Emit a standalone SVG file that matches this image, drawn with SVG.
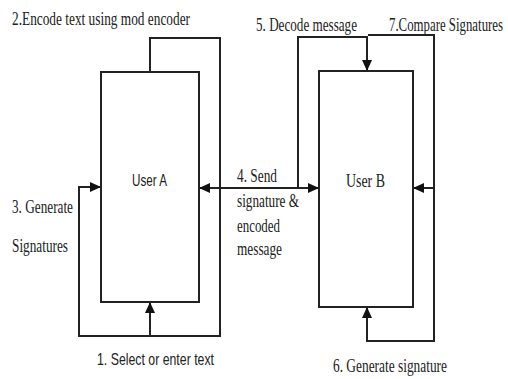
<svg xmlns="http://www.w3.org/2000/svg" width="508" height="379" viewBox="0 0 508 379">
<style>
.box{fill:#fff;stroke:#222;stroke-width:2}
.ln{fill:none;stroke:#222;stroke-width:2}
.ser{font-family:"Liberation Serif","Times New Roman",serif;font-size:19px;fill:#222}
.san{font-family:"Liberation Sans",Arial,sans-serif;font-size:17px;fill:#222}
</style>
<defs>
<marker id="ah" markerUnits="userSpaceOnUse" markerWidth="11" markerHeight="10" refX="10" refY="5" orient="auto-start-reverse">
<path d="M0,0 L11,5 L0,10 z" fill="#111"/>
</marker>
</defs>
<rect width="508" height="379" fill="#fff"/>
<g id="connectors">
<path class="ln" d="M150,72 V38 H220 V336 H79 V187 H100" marker-end="url(#ah)"/>
<path class="ln" d="M150,336 V303" marker-end="url(#ah)"/>
<path class="ln" d="M200,188 H318" marker-start="url(#ah)" marker-end="url(#ah)"/>
<path class="ln" d="M298,188 V37 H367 V70" marker-end="url(#ah)"/>
<path class="ln" d="M368,35 H434 V341 H367 V308" marker-end="url(#ah)"/>
<path class="ln" d="M434,188 H414" marker-end="url(#ah)"/>
</g>
<g id="userA">
<rect class="box" x="101" y="72" width="98" height="230"/>
<text class="san" x="132" y="186" textLength="35" lengthAdjust="spacingAndGlyphs">User A</text>
</g>
<g id="userB">
<rect class="box" x="319" y="71" width="94" height="236"/>
<text class="ser" x="346" y="187" textLength="39" lengthAdjust="spacingAndGlyphs">User B</text>
</g>
<g id="labels">
<text class="ser" x="12" y="25" textLength="178" lengthAdjust="spacingAndGlyphs">2.Encode text using mod encoder</text>
<text class="ser" x="256" y="31" textLength="101" lengthAdjust="spacingAndGlyphs">5. Decode message</text>
<text class="ser" x="389" y="31" textLength="114" lengthAdjust="spacingAndGlyphs">7.Compare Signatures</text>
<text class="ser" x="12" y="213" textLength="61" lengthAdjust="spacingAndGlyphs">3. Generate</text>
<text class="ser" x="12" y="252" textLength="56" lengthAdjust="spacingAndGlyphs">Signatures</text>
<text class="ser" x="237" y="182" textLength="40" lengthAdjust="spacingAndGlyphs">4. Send</text>
<text class="ser" x="237" y="207" textLength="62" lengthAdjust="spacingAndGlyphs">signature &amp;</text>
<text class="ser" x="237" y="232" textLength="43" lengthAdjust="spacingAndGlyphs">encoded</text>
<text class="ser" x="237" y="255" textLength="45" lengthAdjust="spacingAndGlyphs">message</text>
<text class="san" x="97" y="365" textLength="117" lengthAdjust="spacingAndGlyphs">1. Select or enter text</text>
<text class="ser" x="333" y="372" textLength="114" lengthAdjust="spacingAndGlyphs">6. Generate signature</text>
</g>
</svg>
